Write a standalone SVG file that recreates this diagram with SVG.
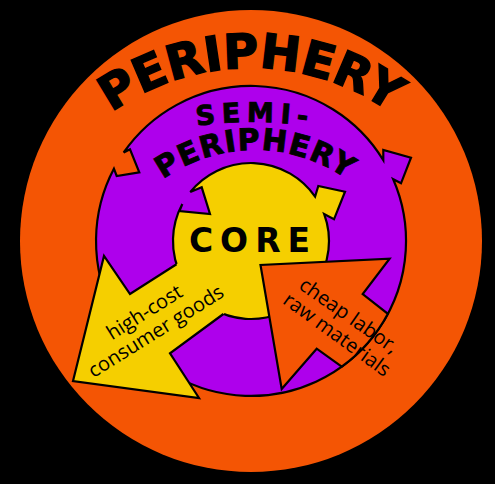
<svg xmlns="http://www.w3.org/2000/svg" width="495" height="484" viewBox="0 0 495 484">
<style>
.ol{stroke:#000;stroke-width:2.2;stroke-linejoin:miter}
.big{font-family:"DejaVu Sans",Verdana,sans-serif;font-weight:bold;fill:#000}
.lbl{font-family:"Open Sans","Noto Sans",sans-serif;font-size:20px;fill:#000;text-anchor:middle}
</style>
<defs>
<path id="arcP" d="M 10,309 A 241 241 0 0 1 492,309"/>
<path id="arcS1" d="M -148,522 A 400 400 0 0 1 652,522"/>
<path id="arcS2" d="M 96,309 A 159 159 0 0 1 414,309"/>
</defs>
<rect width="495" height="484" fill="#000"/>
<g id="periphery">
<circle cx="251" cy="241" r="231" fill="#F45504"/>
<text class="big" font-size="48" stroke="#000" stroke-width="1.4"><textPath href="#arcP" startOffset="50%" text-anchor="middle" textLength="298" lengthAdjust="spacing">PERIPHERY</textPath></text>
</g>
<g id="semi-periphery">
<path class="ol" fill="#AE00EC" d="M 123.7,152.5 A 155 155 0 0 1 383.3,160.2 L 383.3,150 L 411,157.7 L 401,183.3 L 393.2,179.2 A 155 155 0 1 1 113.9,168.7 L 116.7,176 L 139.3,172.3 L 130,149.3 Z"/>
<text class="big" font-size="27" stroke="#000" stroke-width="0.9"><textPath href="#arcS1" startOffset="50%" text-anchor="middle" textLength="111" lengthAdjust="spacing">SEMI-</textPath></text>
<text class="big" font-size="30" stroke="#000" stroke-width="0.9"><textPath href="#arcS2" startOffset="50%" text-anchor="middle" textLength="196" lengthAdjust="spacing">PERIPHERY</textPath></text>
</g>
<g id="core">
<path class="ol" fill="#F5CF00" d="M 324.2,214.1 A 78 78 0 1 1 182.3,204 L 179.5,211 L 210,214 L 201.7,187.3 L 190.3,192 A 78 78 0 0 1 315.1,196.6 L 318.3,186 L 345,191.7 L 334,219.3 Z"/>
<text class="big" x="253" y="252" font-size="33" text-anchor="middle" letter-spacing="7">CORE</text>
</g>
<g id="connectors">
<g id="goods-arrow">
<path fill="#F5CF00" d="M 228.2,310.4 L 170,353.3 L 199,398 L 73,381 L 104,256 L 130,294 L 181.6,261 Z"/>
<path class="ol" fill="none" d="M 223.4,314 L 170,353.3 L 199,398 L 73,381 L 104,256 L 130,294 L 176.5,264.2"/>
<text class="lbl" x="148" y="318" transform="rotate(-32 148 318)">high-cost</text>
<text class="lbl" x="159.5" y="337" transform="rotate(-32 159.5 337)">consumer goods</text>
</g>
<g id="labor-arrow">
<path class="ol" fill="#F45504" d="M 341.7,366.7 L 316.7,348.7 L 281.7,389 L 260.5,265 L 389.6,258.7 L 362.7,294 L 387.9,313.8 A 155 155 0 0 1 341.7,366.7 Z"/>
<text class="lbl" x="345" y="321" transform="rotate(35 345 321)">cheap labor,</text>
<text class="lbl" x="333" y="340" transform="rotate(36 333 340)">raw materials</text>
</g>
</g>
</svg>
